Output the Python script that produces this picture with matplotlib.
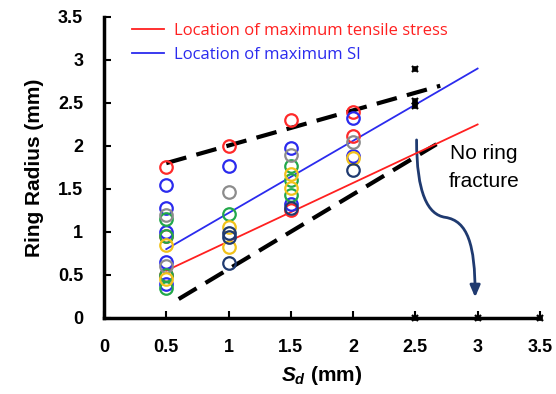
import matplotlib.pyplot as plt
from matplotlib.patches import FancyArrowPatch
from matplotlib.path import Path

plt.rcParams["mathtext.fontset"] = "custom"
plt.rcParams["mathtext.it"] = "Liberation Sans:bold:italic"
plt.rcParams["mathtext.rm"] = "Liberation Sans:bold"

# Observed ring radius points, grouped by colour: (Sd, radius)
red_x = [0.5, 0.5, 0.5, 1, 1.5, 1.5, 2, 2]
red_y = [1.75, 0.95, 0.5, 2.0, 2.3, 1.25, 2.4, 2.12]
blue_x = [0.5, 0.5, 0.5, 0.5, 0.5, 1, 1.5, 1.5, 2, 2]
blue_y = [1.55, 1.28, 1.0, 0.65, 0.4, 1.77, 1.98, 1.32, 2.32, 1.88]
green_x = [0.5, 0.5, 0.5, 0.5, 1, 1.5, 1.5, 1.5]
green_y = [1.15, 0.95, 0.5, 0.35, 1.21, 1.77, 1.6, 1.43]
gray_x = [0.5, 0.5, 1, 1.5, 2]
gray_y = [1.2, 0.6, 1.47, 1.9, 2.05]
yellow_x = [0.5, 0.5, 1, 1, 1.5, 1.5, 2]
yellow_y = [0.85, 0.45, 1.06, 0.83, 1.67, 1.51, 1.86]
navy_x = [1, 1, 1, 1.5, 2]
navy_y = [0.99, 0.94, 0.64, 1.28, 1.72]

# no fracture cases
star_x = [2.5, 2.5, 2.5, 2.5, 3, 3.5]
star_y = [2.9, 2.52, 2.46, 0, 0, 0]

# fitted lines
tensile_x = [0.5, 3.0]
tensile_y = [0.55, 2.25]
si_x = [0.5, 3.0]
si_y = [0.8, 2.9]

# bounding dashed lines
upper_x = [0.5, 2.7]
upper_y = [1.8, 2.7]
lower_x = [0.6, 2.67]
lower_y = [0.22, 2.02]

# curved arrow control points (data units)
arrow_pts = [(2.51, 2.07), (2.51, 1.45), (2.6, 1.2), (2.74, 1.17),
             (2.92, 1.13), (2.98, 0.85), (2.98, 0.24)]

fig = plt.figure(figsize=(5.56, 3.94), dpi=100)
ax = fig.add_axes([0.187, 0.193, 0.784, 0.764])

ax.plot(upper_x, upper_y, color="black", lw=3, ls=(0, (5, 2.5)))
ax.plot(lower_x, lower_y, color="black", lw=3, ls=(0, (5, 2.5)))

ax.plot(tensile_x, tensile_y, color="#ff2020", lw=1.3, label="Location of maximum tensile stress")
ax.plot(si_x, si_y, color="#2b2bee", lw=1.3, label="Location of maximum SI")

groups = [
    (red_x, red_y, "#ff2a2a"),
    (blue_x, blue_y, "#2b2bee"),
    (green_x, green_y, "#22a84a"),
    (gray_x, gray_y, "#8c8c8c"),
    (yellow_x, yellow_y, "#f2c21a"),
    (navy_x, navy_y, "#1f3a70"),
]
for xs, ys, c in groups:
    ax.plot(xs, ys, "o", mfc="none", mec=c, ms=9, mew=1.6, ls="none")

ax.plot(star_x, star_y, "x", color="black", ms=5, mew=1.6, ls="none", clip_on=False, zorder=5)
ax.plot(star_x, star_y, "+", color="black", ms=5, mew=1.2, ls="none", clip_on=False, zorder=5)

codes = [Path.MOVETO] + [Path.CURVE4] * 6
arrow = FancyArrowPatch(path=Path(arrow_pts, codes),
                        arrowstyle="-|>,head_length=7,head_width=3", color="#1f3a70",
                        lw=2, mutation_scale=1, transform=ax.transData)
ax.add_patch(arrow)
ax.text(3.05, 1.75, "No ring\nfracture", ha="center", va="center", fontsize=15,
        family="Liberation Sans", linespacing=1.6)

ax.set_xlim(0, 3.5)
ax.set_ylim(0, 3.5)
ax.set_xticks([0, 0.5, 1, 1.5, 2, 2.5, 3, 3.5])
ax.set_xticklabels(["0", "0.5", "1", "1.5", "2", "2.5", "3", "3.5"])
ax.set_yticks([0, 0.5, 1, 1.5, 2, 2.5, 3, 3.5])
ax.set_yticklabels(["0", "0.5", "1", "1.5", "2", "2.5", "3", "3.5"])
for lab in ax.get_xticklabels() + ax.get_yticklabels():
    lab.set_fontsize(13)
    lab.set_fontweight("bold")
    lab.set_family("Liberation Sans")
ax.tick_params(direction="in", length=5, width=1.5)
ax.tick_params(axis="x", pad=15)
ax.tick_params(axis="y", pad=15)

for s in ["top", "right"]:
    ax.spines[s].set_visible(False)
for s in ["left", "bottom"]:
    ax.spines[s].set_linewidth(2.5)

ax.set_ylabel("Ring Radius (mm)", fontsize=15, fontweight="bold", family="Liberation Sans", labelpad=10)
ax.set_xlabel(r"$S_d$ (mm)", fontsize=15, fontweight="bold", family="Liberation Sans", labelpad=6)

leg = ax.legend(loc="upper left", bbox_to_anchor=(0.03, 1.03), frameon=False,
                handlelength=1.9, handletextpad=0.6, labelspacing=0.5,
                prop={"family": "Open Sans", "size": 12})
for t, c in zip(leg.get_texts(), ["#ff2020", "#2b2bee"]):
    t.set_color(c)

plt.savefig("out.png", dpi=100)
plt.close()
